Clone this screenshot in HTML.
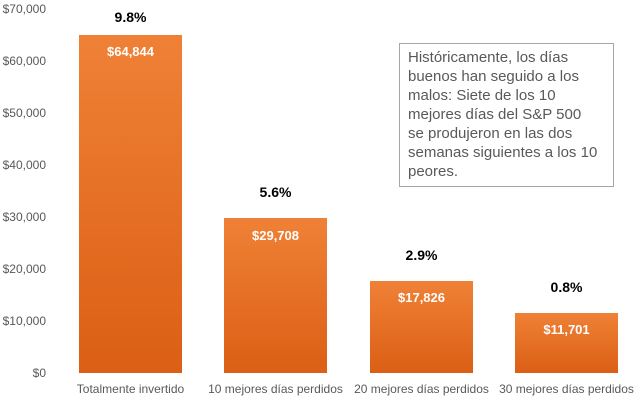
<!DOCTYPE html>
<html><head><meta charset="utf-8"><style>
html,body{margin:0;padding:0;background:#fff;}
svg{display:block;font-family:"Liberation Sans",sans-serif;}
</style></head><body>
<svg width="640" height="404" viewBox="0 0 640 404">
<defs><linearGradient id="g" x1="0" y1="0" x2="0" y2="1">
<stop offset="0" stop-color="#EF8136"/><stop offset="1" stop-color="#DB5F15"/></linearGradient></defs>
<g fill="#595959" font-size="12" text-anchor="end">
<text x="46" y="13">$70,000</text>
<text x="46" y="65">$60,000</text>
<text x="46" y="117">$50,000</text>
<text x="46" y="169">$40,000</text>
<text x="46" y="221">$30,000</text>
<text x="46" y="273">$20,000</text>
<text x="46" y="325">$10,000</text>
<text x="46" y="377">$0</text>
</g>
<rect x="79" y="35" width="103" height="338" fill="url(#g)"/>
<rect x="224" y="218" width="103" height="155" fill="url(#g)"/>
<rect x="370" y="281" width="103" height="92" fill="url(#g)"/>
<rect x="515" y="313" width="103" height="60" fill="url(#g)"/>
<g fill="#fff" font-size="13" font-weight="bold" text-anchor="middle">
<text x="130.5" y="56">$64,844</text>
<text x="275.5" y="240">$29,708</text>
<text x="421.5" y="302">$17,826</text>
<text x="566.5" y="334">$11,701</text>
</g>
<g fill="#000" font-size="14" font-weight="bold" text-anchor="middle">
<text x="130.5" y="22">9.8%</text>
<text x="275.5" y="197">5.6%</text>
<text x="421.5" y="260">2.9%</text>
<text x="566.5" y="292">0.8%</text>
</g>
<g fill="#595959" font-size="12" text-anchor="middle">
<text x="130.5" y="393">Totalmente invertido</text>
<text x="275.5" y="393">10 mejores días perdidos</text>
<text x="421.5" y="393">20 mejores días perdidos</text>
<text x="566.5" y="393">30 mejores días perdidos</text>
</g>
<rect x="399.5" y="43.5" width="214" height="143" fill="#fff" stroke="#A6A6A6" stroke-width="1"/>
<g fill="#595959" font-size="15">
<text x="408" y="62">Históricamente, los días</text>
<text x="408" y="81">buenos han seguido a los</text>
<text x="408" y="100">malos: Siete de los 10</text>
<text x="408" y="119">mejores días del S&amp;P 500</text>
<text x="408" y="138">se produjeron en las dos</text>
<text x="408" y="157">semanas siguientes a los 10</text>
<text x="408" y="176">peores.</text>
</g>
</svg>
</body></html>
